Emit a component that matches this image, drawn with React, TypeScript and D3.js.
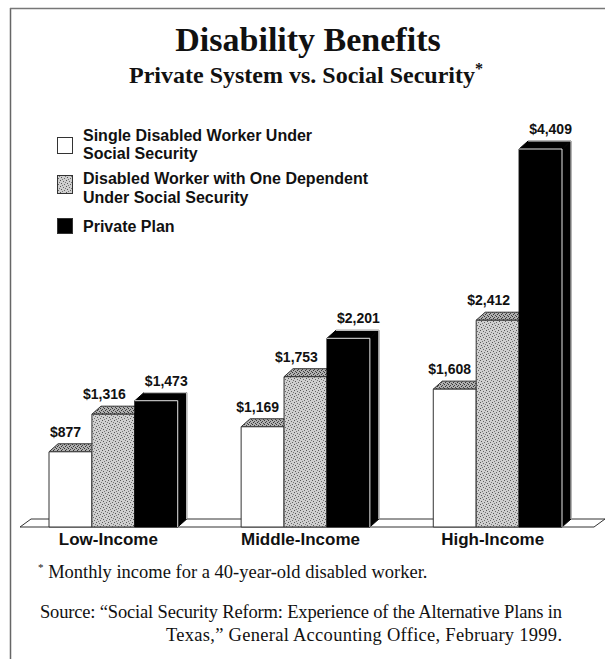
import React from "react";
import * as d3 from "d3";

const categories = ["Low-Income", "Middle-Income", "High-Income"];
const seriesNames = [
  "Single Disabled Worker Under Social Security",
  "Disabled Worker with One Dependent Under Social Security",
  "Private Plan",
];
const singleWorker = [877, 1169, 1608];
const withDependent = [1316, 1753, 2412];
const privatePlan = [1473, 2201, 4409];
const legendLines = [
  ["Single Disabled Worker Under", "Social Security"],
  ["Disabled Worker with One Dependent", "Under Social Security"],
  ["Private Plan"],
];

const W = 605;
const H = 659;
const BASE = 527;
const DX = 9;
const DY = 8;

const fmt = (v: number) => "$" + d3.format(",")(v);

export default function App() {
  const series = [singleWorker, withDependent, privatePlan];
  const x0 = d3.scaleBand<string>().domain(categories).range([49, 562]).paddingInner(0.33).paddingOuter(0);
  const x1 = d3.scaleBand<string>().domain(seriesNames).range([0, x0.bandwidth()]).padding(0);
  const y = d3.scaleLinear().domain([0, 4409]).range([BASE, 149]);

  const frontFill = ["#ffffff", "url(#stipple)", "#000000"];
  const topFill = ["url(#stippleDark)", "url(#stippleDark)", "#000000"];
  const sideFill = ["#ffffff", "url(#stipple)", "#000000"];
  const strokeCol = ["#333", "#333", "#000"];
  const labelShift = [-5, -9, 10];

  const bars: React.ReactNode[] = [];
  const labels: React.ReactNode[] = [];
  categories.forEach((c, ci) => {
    seriesNames.forEach((s, si) => {
      const v = series[si][ci];
      const xl = (x0(c) as number) + (x1(s) as number);
      const xr = xl + x1.bandwidth();
      const yt = y(v);
      const front = `${xl},${yt} ${xr},${yt} ${xr},${BASE} ${xl},${BASE}`;
      const top = `${xl},${yt} ${xl + DX},${yt - DY} ${xr + DX},${yt - DY} ${xr},${yt}`;
      const side = `${xr},${yt} ${xr + DX},${yt - DY} ${xr + DX},${BASE - DY} ${xr},${BASE}`;
      bars.push(
        <g key={`${c}-${s}`}>
          <polygon points={side} fill={sideFill[si]} stroke={strokeCol[si]} strokeWidth={1} />
          <polygon points={top} fill={topFill[si]} stroke={strokeCol[si]} strokeWidth={1} />
          <polygon points={front} fill={frontFill[si]} stroke={strokeCol[si]} strokeWidth={1} />
          {si === 2 && (
            <g stroke="#e8e8e8" strokeWidth={1} fill="none">
              <line x1={xr} y1={yt} x2={xr} y2={BASE} />
              <line x1={xl} y1={yt} x2={xr} y2={yt} />
              <line x1={xl + DX} y1={yt - DY} x2={xr + DX} y2={yt - DY} />
              <line x1={xr + DX} y1={yt - DY} x2={xr + DX} y2={BASE - DY} />
            </g>
          )}
        </g>
      );
      labels.push(
        <text
          key={`l-${c}-${s}`}
          x={(xl + xr) / 2 + labelShift[si]}
          y={yt - DY - 7}
          textAnchor="middle"
          fontFamily="Liberation Sans, Arial, sans-serif"
          fontWeight="bold"
          fontSize={14}
          fill="#111"
        >
          {fmt(v)}
        </text>
      );
    });
  });

  const floorLeft = 20;
  const floorRight = 594;
  const floor = `${floorLeft},${BASE} ${floorLeft + 11},${BASE - DY} ${floorRight + 11},${BASE - DY} ${floorRight},${BASE}`;

  const legendY = [[141, 159], [184, 203], [232]];
  const swatchY = [137, 175, 218];
  const swatchH = [16, 18, 15];

  return (
    <svg width={W} height={H} style={{ position: "absolute", left: 0, top: 0, background: "#fff" }}>
      <defs>
        <pattern id="stipple" width="6" height="6" patternUnits="userSpaceOnUse">
          <rect width="6" height="6" fill="#cfcfcf" />
          <rect x="0" y="0" width="1" height="1" fill="#555" />
          <rect x="3" y="1" width="1" height="1" fill="#666" />
          <rect x="1" y="3" width="1" height="1" fill="#555" />
          <rect x="4" y="4" width="1" height="1" fill="#666" />
          <rect x="2" y="5" width="1" height="1" fill="#777" />
          <rect x="5" y="2" width="1" height="1" fill="#777" />
        </pattern>
        <pattern id="stippleDark" width="4" height="4" patternUnits="userSpaceOnUse">
          <rect width="4" height="4" fill="#b0b0b0" />
          <rect x="0" y="0" width="1" height="1" fill="#333" />
          <rect x="2" y="1" width="1" height="1" fill="#444" />
          <rect x="1" y="2" width="1" height="1" fill="#333" />
          <rect x="3" y="3" width="1" height="1" fill="#444" />
        </pattern>
      </defs>
      <rect width={W} height={H} fill="#fff" />
      <line x1={10.5} y1={8} x2={10.5} y2={H} stroke="#666" strokeWidth={1.5} />
      <line x1={10} y1={8.5} x2={W} y2={8.5} stroke="#777" strokeWidth={1.5} />

      <text x={308} y={51} textAnchor="middle" fontFamily="Liberation Serif, Times New Roman, serif" fontWeight="bold" fontSize={34} fill="#111">
        Disability Benefits
      </text>
      <text x={306} y={83} textAnchor="middle" fontFamily="Liberation Serif, Times New Roman, serif" fontWeight="bold" fontSize={24} fill="#111">
        Private System vs. Social Security
        <tspan fontSize={16} dy={-9}>*</tspan>
      </text>

      {legendLines.map((lines, i) => (
        <g key={`leg-${i}`}>
          <rect
            x={57.5}
            y={swatchY[i] + 0.5}
            width={15}
            height={swatchH[i]}
            fill={frontFill[i]}
            stroke="#333"
            strokeWidth={1}
          />
          {lines.map((t, j) => (
            <text
              key={j}
              x={83}
              y={legendY[i][j]}
              fontFamily="Liberation Sans, Arial, sans-serif"
              fontWeight="bold"
              fontSize={16}
              fill="#111"
            >
              {t}
            </text>
          ))}
        </g>
      ))}

      <polygon points={floor} fill="#fff" stroke="#333" strokeWidth={1} />
      {bars}
      {labels}

      {categories.map((c) => (
        <text
          key={`cat-${c}`}
          x={(x0(c) as number) + x0.bandwidth() / 2 - 5}
          y={545}
          textAnchor="middle"
          fontFamily="Liberation Sans, Arial, sans-serif"
          fontWeight="bold"
          fontSize={17}
          fill="#111"
        >
          {c}
        </text>
      ))}

      <g fontFamily="Liberation Serif, Times New Roman, serif" fontSize={18.5} fill="#111">
        <text x={38} y={578}>
          <tspan fontSize={11} dy={-7}>*</tspan>
          <tspan dy={7}> Monthly income for a 40-year-old disabled worker.</tspan>
        </text>
        <text x={40} y={618} textLength={522} lengthAdjust="spacing">
          Source: “Social Security Reform: Experience of the Alternative Plans in
        </text>
        <text x={166} y={641} textLength={396} lengthAdjust="spacing">
          Texas,” General Accounting Office, February 1999.
        </text>
      </g>
    </svg>
  );
}
